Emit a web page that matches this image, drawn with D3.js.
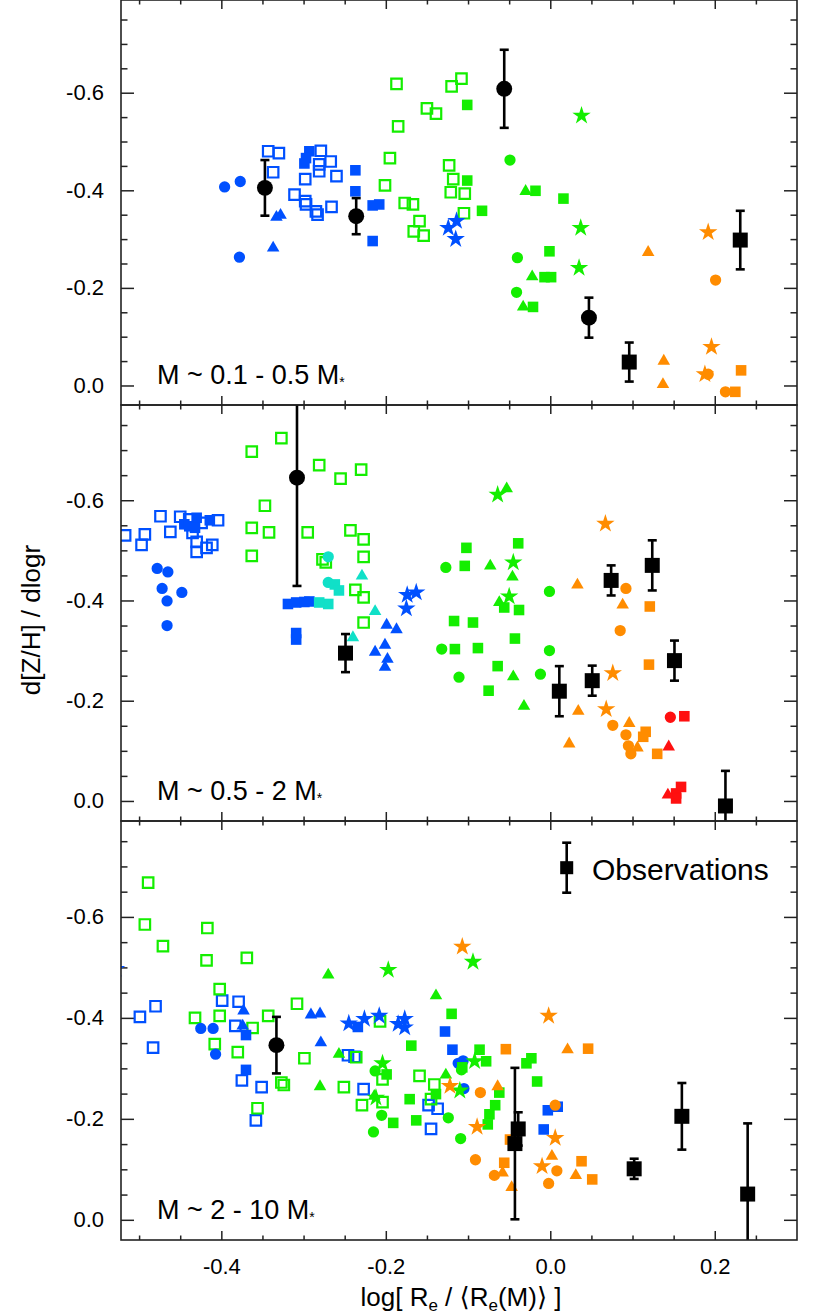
<!DOCTYPE html>
<html>
<head>
<meta charset="utf-8">
<script src="https://cdn.jsdelivr.net/npm/d3@7"></script>
<style>
body { margin: 0; background: #fff; }
text { font-family: "Liberation Sans", Arial, "DejaVu Sans", sans-serif; fill: #000; }
</style>
</head>
<body>
<svg id="chart" width="830" height="1315"></svg>
<script>
// ---- data: [logRe offset, gradient] ----
// panel 1 : M ~ 0.1 - 0.5 M*
var p1BlueCircle = [[-0.396,-0.407],[-0.377,-0.418],[-0.378,-0.263]];
var p1BlueTriangle = [[-0.333,-0.345],[-0.328,-0.349],[-0.337,-0.282]];
var p1BlueSquare = [[-0.293,-0.480],[-0.297,-0.466],[-0.299,-0.455],[-0.237,-0.441],[-0.237,-0.398],[-0.216,-0.369],[-0.208,-0.371],[-0.216,-0.296]];
var p1BlueOpen = [[-0.343,-0.480],[-0.330,-0.476],[-0.337,-0.437],[-0.311,-0.391],[-0.298,-0.378],[-0.298,-0.423],[-0.279,-0.481],[-0.281,-0.453],[-0.281,-0.439],[-0.267,-0.459],[-0.260,-0.429],[-0.297,-0.371],[-0.285,-0.357],[-0.283,-0.350],[-0.266,-0.366]];
var p1BlueStar = [[-0.124,-0.323],[-0.114,-0.337],[-0.115,-0.300]];
var p1GreenOpen = [[-0.187,-0.618],[-0.185,-0.531],[-0.195,-0.466],[-0.201,-0.410],[-0.150,-0.568],[-0.139,-0.557],[-0.120,-0.613],[-0.108,-0.629],[-0.123,-0.451],[-0.118,-0.423],[-0.121,-0.396],[-0.104,-0.393],[-0.177,-0.374],[-0.167,-0.371],[-0.159,-0.337],[-0.166,-0.316],[-0.154,-0.307],[-0.105,-0.353]];
var p1GreenSquare = [[-0.101,-0.575],[-0.101,-0.420],[-0.083,-0.358],[-0.018,-0.399],[0.016,-0.383],[-0.001,-0.275],[-0.007,-0.222],[0.001,-0.222],[-0.021,-0.161]];
var p1GreenTriangle = [[-0.030,-0.398],[-0.022,-0.223],[-0.033,-0.161]];
var p1GreenCircle = [[-0.049,-0.462],[-0.040,-0.262],[-0.041,-0.191]];
var p1GreenStar = [[0.038,-0.553],[0.037,-0.323],[0.035,-0.241]];
var p1OrangeTriangle = [[0.119,-0.273],[0.138,-0.050],[0.137,-0.002]];
var p1OrangeStar = [[0.192,-0.314],[0.196,-0.079],[0.188,-0.023]];
var p1OrangeCircle = [[0.201,-0.216],[0.192,-0.023],[0.213,0.013]];
var p1OrangeSquare = [[0.232,-0.031],[0.225,0.013]];
// observations: [x, y, error]
var p1ObsCircle = [[-0.347,-0.405,0.057],[-0.236,-0.347,0.037],[-0.056,-0.608,0.080],[0.047,-0.139,0.041]];
var p1ObsSquare = [[0.096,-0.048,0.040],[0.231,-0.298,0.060]];

// panel 2 : M ~ 0.5 - 2 M*
var p2BlueOpen = [[-0.517,-0.530],[-0.493,-0.532],[-0.497,-0.511],[-0.474,-0.568],[-0.462,-0.537],[-0.450,-0.567],[-0.439,-0.562],[-0.404,-0.560],[-0.411,-0.511],[-0.430,-0.517],[-0.430,-0.497],[-0.418,-0.505],[-0.424,-0.555],[-0.435,-0.535]];
var p2BlueSquare = [[-0.445,-0.552],[-0.439,-0.548],[-0.430,-0.565],[-0.432,-0.545],[-0.414,-0.560],[-0.319,-0.393],[-0.309,-0.396],[-0.299,-0.397],[-0.293,-0.398],[-0.309,-0.335],[-0.309,-0.322]];
var p2BlueCircle = [[-0.478,-0.464],[-0.465,-0.457],[-0.472,-0.424],[-0.448,-0.416],[-0.466,-0.399],[-0.466,-0.350]];
var p2BlueTriangle = [[-0.199,-0.351],[-0.187,-0.342],[-0.201,-0.311],[-0.213,-0.297],[-0.198,-0.283],[-0.201,-0.267]];
var p2BlueStar = [[-0.174,-0.411],[-0.163,-0.416],[-0.175,-0.384]];
var p2CyanCircle = [[-0.270,-0.487],[-0.270,-0.436]];
var p2CyanSquare = [[-0.262,-0.432],[-0.257,-0.420],[-0.270,-0.393],[-0.281,-0.396]];
var p2CyanTriangle = [[-0.229,-0.449],[-0.213,-0.378],[-0.240,-0.326]];
var p2GreenOpen = [[-0.363,-0.697],[-0.327,-0.724],[-0.347,-0.589],[-0.363,-0.545],[-0.342,-0.536],[-0.363,-0.489],[-0.295,-0.536],[-0.281,-0.670],[-0.255,-0.643],[-0.230,-0.661],[-0.243,-0.540],[-0.227,-0.522],[-0.227,-0.487],[-0.277,-0.482],[-0.273,-0.476],[-0.237,-0.421],[-0.227,-0.406],[-0.227,-0.356]];
var p2GreenCircle = [[-0.127,-0.466],[-0.132,-0.303],[-0.111,-0.247],[-0.001,-0.418],[-0.001,-0.300],[-0.012,-0.253]];
var p2GreenSquare = [[-0.104,-0.469],[-0.102,-0.505],[-0.039,-0.514],[-0.056,-0.386],[-0.038,-0.381],[-0.117,-0.359],[-0.094,-0.356],[-0.116,-0.303],[-0.088,-0.305],[-0.043,-0.324],[-0.064,-0.269],[-0.075,-0.220]];
var p2GreenTriangle = [[-0.053,-0.623],[-0.073,-0.469],[-0.046,-0.447],[-0.062,-0.396],[-0.045,-0.248],[-0.032,-0.189]];
var p2GreenStar = [[-0.064,-0.611],[-0.045,-0.476],[-0.050,-0.408]];
var p2OrangeStar = [[0.067,-0.553],[0.076,-0.255],[0.068,-0.183]];
var p2OrangeTriangle = [[0.033,-0.431],[0.088,-0.391],[0.034,-0.179],[0.023,-0.114],[0.096,-0.155],[0.106,-0.106]];
var p2OrangeCircle = [[0.092,-0.424],[0.085,-0.340],[0.076,-0.151],[0.092,-0.132],[0.095,-0.110],[0.098,-0.094]];
var p2OrangeSquare = [[0.121,-0.388],[0.120,-0.272],[0.116,-0.138],[0.113,-0.128],[0.130,-0.094]];
var p2RedCircle = [[0.146,-0.167]];
var p2RedSquare = [[0.163,-0.169],[0.153,-0.015],[0.159,-0.028],[0.153,-0.005]];
var p2RedTriangle = [[0.144,-0.108],[0.143,-0.012]];
var p2ObsCircle = [[-0.308,-0.645,0.216]];
var p2ObsSquare = [[-0.249,-0.295,0.038],[0.074,-0.440,0.030],[0.124,-0.470,0.050],[0.011,-0.219,0.050],[0.051,-0.240,0.030],[0.151,-0.280,0.040],[0.213,0.010,0.070]];

// panel 3 : M ~ 2 - 10 M*
var p3GreenOpen = [[-0.489,-0.668],[-0.493,-0.585],[-0.471,-0.542],[-0.417,-0.578],[-0.418,-0.514],[-0.369,-0.519],[-0.402,-0.457],[-0.432,-0.400],[-0.402,-0.404],[-0.343,-0.404],[-0.362,-0.380],[-0.308,-0.428],[-0.207,-0.393],[-0.408,-0.348],[-0.380,-0.332],[-0.327,-0.272],[-0.324,-0.267],[-0.356,-0.221],[-0.299,-0.320],[-0.251,-0.263],[-0.236,-0.322],[-0.204,-0.278],[-0.204,-0.233],[-0.229,-0.227],[-0.159,-0.285],[-0.141,-0.268],[-0.145,-0.239]];
var p3BlueOpen = [[-0.499,-0.402],[-0.480,-0.423],[-0.399,-0.434],[-0.379,-0.432],[-0.383,-0.384],[-0.483,-0.341],[-0.375,-0.276],[-0.351,-0.263],[-0.358,-0.197],[-0.246,-0.326],[-0.238,-0.323],[-0.227,-0.259],[-0.148,-0.227],[-0.137,-0.220],[-0.145,-0.180]];
var p3BlueTriangle = [[-0.373,-0.414],[-0.374,-0.384],[-0.291,-0.406],[-0.280,-0.408],[-0.279,-0.351]];
var p3BlueCircle = [[-0.425,-0.379],[-0.410,-0.379],[-0.407,-0.328],[-0.112,-0.310],[-0.106,-0.315],[-0.105,-0.260]];
var p3BlueSquare = [[-0.370,-0.366],[-0.370,-0.297],[-0.128,-0.373],[-0.119,-0.337],[-0.003,-0.217],[0.009,-0.224],[-0.008,-0.179],[-0.234,-0.382]];
var p3BlueStar = [[-0.245,-0.389],[-0.226,-0.398],[-0.208,-0.404],[-0.185,-0.388],[-0.177,-0.398],[-0.177,-0.381],[-0.528,-0.497]];
var p3GreenTriangle = [[-0.270,-0.485],[-0.139,-0.444],[-0.257,-0.328],[-0.280,-0.264],[-0.214,-0.245],[-0.127,-0.287]];
var p3GreenStar = [[-0.197,-0.495],[-0.094,-0.511],[-0.204,-0.310],[-0.212,-0.242],[-0.110,-0.256],[-0.092,-0.314]];
var p3GreenCircle = [[-0.213,-0.295],[-0.205,-0.207],[-0.215,-0.174],[-0.124,-0.202],[-0.109,-0.161],[-0.108,-0.297]];
var p3GreenSquare = [[-0.120,-0.408],[-0.169,-0.345],[-0.199,-0.288],[-0.171,-0.239],[-0.191,-0.192],[-0.163,-0.197],[-0.139,-0.249],[-0.107,-0.302],[-0.086,-0.337],[-0.078,-0.314],[-0.029,-0.310],[-0.023,-0.320],[-0.016,-0.274],[-0.062,-0.252],[-0.067,-0.227],[-0.074,-0.209],[-0.076,-0.189]];
var p3OrangeStar = [[-0.107,-0.541],[-0.002,-0.404],[-0.122,-0.265],[-0.089,-0.184],[0.006,-0.162],[-0.010,-0.106]];
var p3OrangeCircle = [[-0.085,-0.252],[-0.091,-0.119],[-0.068,-0.088],[0.006,-0.227],[0.008,-0.097],[-0.002,-0.072]];
var p3OrangeTriangle = [[-0.064,-0.264],[0.021,-0.337],[-0.058,-0.093],[-0.047,-0.064],[0.002,-0.126],[0.031,-0.088]];
var p3OrangeSquare = [[-0.054,-0.338],[0.046,-0.339],[-0.056,-0.113],[0.038,-0.116],[0.051,-0.080],[-0.049,-0.159]];
var p3ObsCircle = [[-0.333,-0.346,0.056]];
var p3ObsSquare = [[-0.043,-0.151,0.150],[-0.039,-0.180,0.033],[0.102,-0.101,0.020],[0.160,-0.205,0.066],[0.240,-0.051,0.140]];

var panelLabels = ["0.1 - 0.5", "0.5 - 2", "2 - 10"];
var xMajor = [-0.4, -0.2, 0.0, 0.2];
var yMajor = [-0.6, -0.4, -0.2, 0.0];

// ---- styling ----
var blue = "#0050ff", green = "#14ee00", orange = "#ff8c00", cyan = "#10e0c8", red = "#ff1010";

var panels = [
	{ top: 0, bottom: 405, label: panelLabels[0], series: [
		[p1BlueOpen, blue, "open"], [p1GreenOpen, green, "open"],
		[p1BlueCircle, blue, "circle"], [p1BlueTriangle, blue, "triangle"], [p1BlueSquare, blue, "square"], [p1BlueStar, blue, "star"],
		[p1GreenSquare, green, "square"], [p1GreenTriangle, green, "triangle"], [p1GreenCircle, green, "circle"], [p1GreenStar, green, "star"],
		[p1OrangeTriangle, orange, "triangle"], [p1OrangeStar, orange, "star"], [p1OrangeCircle, orange, "circle"], [p1OrangeSquare, orange, "square"]
	], obsCircle: p1ObsCircle, obsSquare: p1ObsSquare },
	{ top: 405, bottom: 821, label: panelLabels[1], series: [
		[p2BlueOpen, blue, "open"], [p2GreenOpen, green, "open"],
		[p2BlueSquare, blue, "square"], [p2BlueCircle, blue, "circle"], [p2BlueTriangle, blue, "triangle"], [p2BlueStar, blue, "star"],
		[p2CyanCircle, cyan, "circle"], [p2CyanSquare, cyan, "square"], [p2CyanTriangle, cyan, "triangle"],
		[p2GreenCircle, green, "circle"], [p2GreenSquare, green, "square"], [p2GreenTriangle, green, "triangle"], [p2GreenStar, green, "star"],
		[p2OrangeTriangle, orange, "triangle"], [p2OrangeCircle, orange, "circle"], [p2OrangeSquare, orange, "square"], [p2OrangeStar, orange, "star"],
		[p2RedCircle, red, "circle"], [p2RedSquare, red, "square"], [p2RedTriangle, red, "triangle"]
	], obsCircle: p2ObsCircle, obsSquare: p2ObsSquare },
	{ top: 821, bottom: 1240, label: panelLabels[2], series: [
		[p3BlueOpen, blue, "open"], [p3GreenOpen, green, "open"],
		[p3BlueTriangle, blue, "triangle"], [p3BlueCircle, blue, "circle"], [p3BlueSquare, blue, "square"], [p3BlueStar, blue, "star"],
		[p3GreenTriangle, green, "triangle"], [p3GreenCircle, green, "circle"], [p3GreenSquare, green, "square"], [p3GreenStar, green, "star"],
		[p3OrangeCircle, orange, "circle"], [p3OrangeTriangle, orange, "triangle"], [p3OrangeSquare, orange, "square"], [p3OrangeStar, orange, "star"]
	], obsCircle: p3ObsCircle, obsSquare: p3ObsSquare }
];

var left = 121, right = 797;
var svg = d3.select("#chart");

var x = d3.scaleLinear().domain([-0.522, 0.30]).range([left, right]);

var symbols = {
	circle: d3.symbol(d3.symbolCircle, 100),
	triangle: d3.symbol(d3.symbolTriangle, 68),
	square: d3.symbol(d3.symbolSquare, 112),
	star: d3.symbol(d3.symbolStar, 105),
	open: d3.symbol(d3.symbolSquare, 110)
};

var fmt = function(d) { return d.toFixed(1); };
var xMinor = d3.range(-10, 7).map(function(i) { return i * 0.05; })
	.filter(function(v) { return v > -0.52 && v < 0.3 && Math.abs(v * 5 - Math.round(v * 5)) > 1e-6; });
var yMinor = d3.range(-15, 1).map(function(i) { return i * 0.05; })
	.filter(function(v) { return Math.abs(v * 5 - Math.round(v * 5)) > 1e-6; });

panels.forEach(function(p, i) {
	var y = d3.scaleLinear().domain([-0.79, 0.04]).range([p.top, p.bottom]);
	var h = p.bottom - p.top;
	var g = svg.append("g");

	g.append("clipPath").attr("id", "clip" + i)
		.append("rect").attr("x", left).attr("y", p.top).attr("width", right - left).attr("height", h);

	// axes, all ticks pointing inward
	function styleAxis(sel) {
		sel.select(".domain").remove();
		sel.selectAll(".tick line").attr("stroke", "#222").attr("stroke-width", 1.5);
		sel.selectAll("text").attr("font-size", 22).attr("fill", "#000");
	}
	g.append("g").attr("transform", "translate(" + left + ",0)")
		.call(d3.axisLeft(y).tickValues(yMajor).tickSize(-13).tickPadding(17).tickFormat(fmt)).call(styleAxis);
	g.append("g").attr("transform", "translate(" + left + ",0)")
		.call(d3.axisLeft(y).tickValues(yMinor).tickSize(-6.5).tickFormat("")).call(styleAxis);
	g.append("g").attr("transform", "translate(" + right + ",0)")
		.call(d3.axisRight(y).tickValues(yMajor).tickSize(-13).tickFormat("")).call(styleAxis);
	g.append("g").attr("transform", "translate(" + right + ",0)")
		.call(d3.axisRight(y).tickValues(yMinor).tickSize(-6.5).tickFormat("")).call(styleAxis);
	g.append("g").attr("transform", "translate(0," + p.top + ")")
		.call(d3.axisTop(x).tickValues(xMajor).tickSize(-9).tickFormat("")).call(styleAxis);
	g.append("g").attr("transform", "translate(0," + p.top + ")")
		.call(d3.axisTop(x).tickValues(xMinor).tickSize(-4.5).tickFormat("")).call(styleAxis);
	g.append("g").attr("transform", "translate(0," + p.bottom + ")")
		.call(d3.axisBottom(x).tickValues(xMajor).tickSize(-9).tickPadding(18)
			.tickFormat(i === 2 ? fmt : "")).call(styleAxis);
	g.append("g").attr("transform", "translate(0," + p.bottom + ")")
		.call(d3.axisBottom(x).tickValues(xMinor).tickSize(-4.5).tickFormat("")).call(styleAxis);

	var marks = g.append("g").attr("clip-path", "url(#clip" + i + ")");

	p.series.forEach(function(s) {
		var open = s[2] === "open";
		marks.append("g").selectAll("path")
			.data(s[0])
			.enter().append("path")
				.attr("d", symbols[s[2]])
				.attr("transform", function(d) { return "translate(" + x(d[0]) + "," + y(d[1]) + ")"; })
				.attr("fill", open ? "none" : s[1])
				.attr("stroke", open ? s[1] : "none")
				.attr("stroke-width", open ? 2.2 : 0);
	});

	// observations with error bars
	var obs = p.obsCircle.map(function(d) { return { d: d, shape: "circle" }; })
		.concat(p.obsSquare.map(function(d) { return { d: d, shape: "square" }; }));
	var og = marks.append("g").selectAll("g").data(obs).enter().append("g");
	og.append("line")
		.attr("x1", function(o) { return x(o.d[0]); })
		.attr("x2", function(o) { return x(o.d[0]); })
		.attr("y1", function(o) { return y(o.d[1] - o.d[2]); })
		.attr("y2", function(o) { return y(o.d[1] + o.d[2]); })
		.attr("stroke", "#000").attr("stroke-width", 2.6);
	[-1, 1].forEach(function(sgn) {
		og.append("line")
			.attr("x1", function(o) { return x(o.d[0]) - 4.5; })
			.attr("x2", function(o) { return x(o.d[0]) + 4.5; })
			.attr("y1", function(o) { return y(o.d[1] + sgn * o.d[2]); })
			.attr("y2", function(o) { return y(o.d[1] + sgn * o.d[2]); })
			.attr("stroke", "#000").attr("stroke-width", 2.6);
	});
	og.append("path")
		.attr("d", function(o) { return o.shape === "circle" ? d3.symbol(d3.symbolCircle, 200)() : d3.symbol(d3.symbolSquare, 225)(); })
		.attr("transform", function(o) { return "translate(" + x(o.d[0]) + "," + y(o.d[1]) + ")"; })
		.attr("fill", "#000");

	// frame
	g.append("rect").attr("x", left).attr("y", p.top).attr("width", right - left).attr("height", h)
		.attr("fill", "none").attr("stroke", "#222").attr("stroke-width", 1.6);

	// mass range label
	var t = g.append("text").attr("x", 157).attr("y", p.bottom - 21).attr("font-size", 27);
	t.append("tspan").text("M ~ " + p.label + " M");
	t.append("tspan").attr("font-size", 14).attr("dy", 3).text("*");
});

// legend in the bottom panel
var lx = 566.7, ly = 867.7;
var leg = svg.append("g");
leg.append("line").attr("x1", lx).attr("x2", lx).attr("y1", ly - 25).attr("y2", ly + 25).attr("stroke", "#000").attr("stroke-width", 2.6);
[-25, 25].forEach(function(dy) {
	leg.append("line").attr("x1", lx - 4.5).attr("x2", lx + 4.5).attr("y1", ly + dy).attr("y2", ly + dy).attr("stroke", "#000").attr("stroke-width", 2.6);
});
leg.append("path").attr("d", d3.symbol(d3.symbolSquare, 170)()).attr("transform", "translate(" + lx + "," + ly + ")");
leg.append("text").attr("x", 592).attr("y", 880).attr("font-size", 30).text("Observations");

// axis titles
svg.append("text")
	.attr("transform", "translate(40,620) rotate(-90)")
	.attr("text-anchor", "middle").attr("font-size", 26)
	.text("d[Z/H] / dlogr");

var xt = svg.append("text").attr("x", 461).attr("y", 1306).attr("text-anchor", "middle").attr("font-size", 26);
xt.append("tspan").text("log[ R");
xt.append("tspan").attr("font-size", 17).attr("dy", 5).text("e");
xt.append("tspan").attr("dy", -5).text(" / \u27E8R");
xt.append("tspan").attr("font-size", 17).attr("dy", 5).text("e");
xt.append("tspan").attr("dy", -5).text("(M)\u27E9 ]");
</script>
</body>
</html>
